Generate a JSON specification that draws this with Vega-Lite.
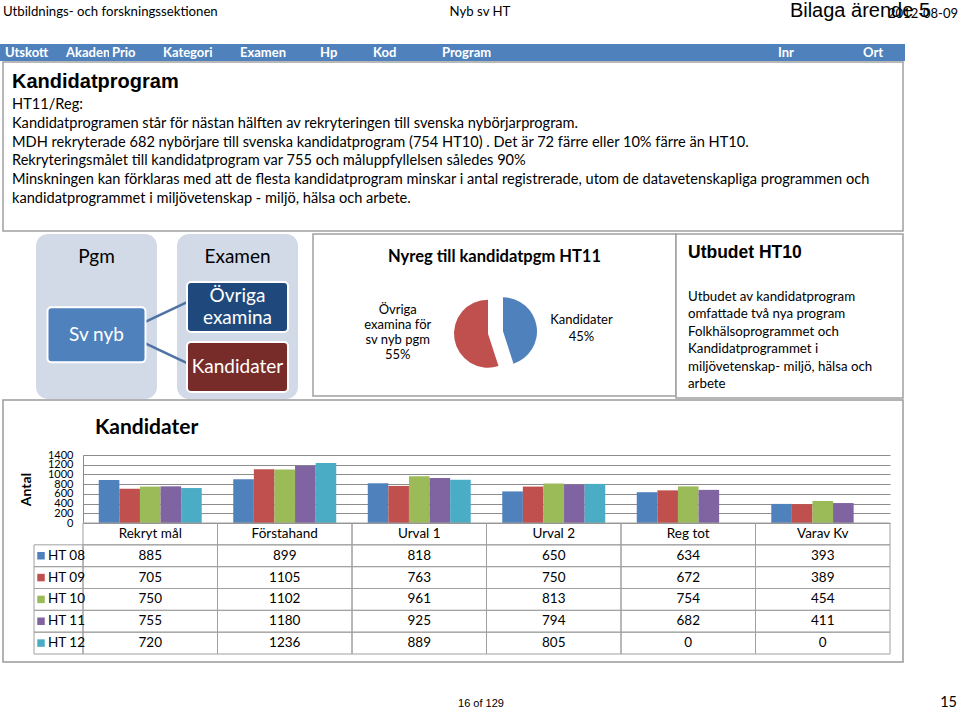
{
  "$schema": "https://vega.github.io/schema/vega-lite/v6.json",
  "padding": 0,
  "background": "white",
  "spacing": 0,
  "bounds": "full",
  "resolve": {"scale": {"color": "independent"}},
  "config": {
    "view": {"stroke": null},
    "concat": {"spacing": 0},
    "text": {"font": "Lato", "fontSize": 14, "color": "black"},
    "axis": {"labelFont": "Lato", "titleFont": "Lato"},
    "title": {"font": "Lato"}
  },
  "vconcat": [
    {
      "width": 960, "height": 44,
      "data": {"values": [{}]},
      "layer": [
        {"mark": {"type": "text", "text": "Utbildnings- och forskningssektionen", "align": "left", "baseline": "middle", "dx": 3, "dy": -10, "fontSize": 13.2},
         "encoding": {"x": {"datum": "a", "type": "nominal", "scale": {"type": "band", "domain": ["a"], "paddingInner": 0, "paddingOuter": 0}, "bandPosition": 0, "axis": null}}},
        {"mark": {"type": "text", "text": "Nyb sv HT", "baseline": "middle", "dy": -10, "fontSize": 13.2}, "encoding": {}},
        {"mark": {"type": "text", "text": "Bilaga ärende 5", "align": "right", "baseline": "alphabetic", "dx": -30, "dy": -5, "font": "Liberation Sans", "fontSize": 20},
         "encoding": {"x": {"datum": "a", "type": "nominal", "bandPosition": 1, "axis": null}}},
        {"mark": {"type": "text", "text": "2012-08-09", "align": "right", "baseline": "middle", "dx": -2, "dy": -8, "fontSize": 13},
         "encoding": {"x": {"datum": "a", "type": "nominal", "bandPosition": 1, "axis": null}}}
      ]
    },
    {
      "hconcat": [
        {"width": 63, "height": 17, "view": {"fill": "#4F81BD", "stroke": null}, "data": {"values": [{}]},
         "mark": {"type": "text", "text": "Utskott", "align": "left", "baseline": "middle", "dx": 5, "fontWeight": "bold", "fontSize": 13, "color": "white", "clip": true},
         "encoding": {"x": {"datum": "a", "type": "nominal", "scale": {"type": "band", "domain": ["a"], "paddingInner": 0, "paddingOuter": 0}, "bandPosition": 0, "axis": null}}},
        {"width": 46, "height": 17, "view": {"fill": "#4F81BD", "stroke": null}, "data": {"values": [{}]},
         "mark": {"type": "text", "text": "Akademi", "align": "left", "baseline": "middle", "dx": 3, "fontWeight": "bold", "fontSize": 13, "color": "white", "clip": true},
         "encoding": {"x": {"datum": "a", "type": "nominal", "scale": {"type": "band", "domain": ["a"], "paddingInner": 0, "paddingOuter": 0}, "bandPosition": 0, "axis": null}}},
        {"width": 51, "height": 17, "view": {"fill": "#4F81BD", "stroke": null}, "data": {"values": [{}]},
         "mark": {"type": "text", "text": "Prio", "align": "left", "baseline": "middle", "dx": 3, "fontWeight": "bold", "fontSize": 13, "color": "white", "clip": true},
         "encoding": {"x": {"datum": "a", "type": "nominal", "scale": {"type": "band", "domain": ["a"], "paddingInner": 0, "paddingOuter": 0}, "bandPosition": 0, "axis": null}}},
        {"width": 77, "height": 17, "view": {"fill": "#4F81BD", "stroke": null}, "data": {"values": [{}]},
         "mark": {"type": "text", "text": "Kategori", "align": "left", "baseline": "middle", "dx": 3, "fontWeight": "bold", "fontSize": 13, "color": "white", "clip": true},
         "encoding": {"x": {"datum": "a", "type": "nominal", "scale": {"type": "band", "domain": ["a"], "paddingInner": 0, "paddingOuter": 0}, "bandPosition": 0, "axis": null}}},
        {"width": 80, "height": 17, "view": {"fill": "#4F81BD", "stroke": null}, "data": {"values": [{}]},
         "mark": {"type": "text", "text": "Examen", "align": "left", "baseline": "middle", "dx": 3, "fontWeight": "bold", "fontSize": 13, "color": "white", "clip": true},
         "encoding": {"x": {"datum": "a", "type": "nominal", "scale": {"type": "band", "domain": ["a"], "paddingInner": 0, "paddingOuter": 0}, "bandPosition": 0, "axis": null}}},
        {"width": 53, "height": 17, "view": {"fill": "#4F81BD", "stroke": null}, "data": {"values": [{}]},
         "mark": {"type": "text", "text": "Hp", "align": "left", "baseline": "middle", "dx": 3, "fontWeight": "bold", "fontSize": 13, "color": "white", "clip": true},
         "encoding": {"x": {"datum": "a", "type": "nominal", "scale": {"type": "band", "domain": ["a"], "paddingInner": 0, "paddingOuter": 0}, "bandPosition": 0, "axis": null}}},
        {"width": 69, "height": 17, "view": {"fill": "#4F81BD", "stroke": null}, "data": {"values": [{}]},
         "mark": {"type": "text", "text": "Kod", "align": "left", "baseline": "middle", "dx": 3, "fontWeight": "bold", "fontSize": 13, "color": "white", "clip": true},
         "encoding": {"x": {"datum": "a", "type": "nominal", "scale": {"type": "band", "domain": ["a"], "paddingInner": 0, "paddingOuter": 0}, "bandPosition": 0, "axis": null}}},
        {"width": 336, "height": 17, "view": {"fill": "#4F81BD", "stroke": null}, "data": {"values": [{}]},
         "mark": {"type": "text", "text": "Program", "align": "left", "baseline": "middle", "dx": 3, "fontWeight": "bold", "fontSize": 13, "color": "white", "clip": true},
         "encoding": {"x": {"datum": "a", "type": "nominal", "scale": {"type": "band", "domain": ["a"], "paddingInner": 0, "paddingOuter": 0}, "bandPosition": 0, "axis": null}}},
        {"width": 85, "height": 17, "view": {"fill": "#4F81BD", "stroke": null}, "data": {"values": [{}]},
         "mark": {"type": "text", "text": "Inr", "align": "left", "baseline": "middle", "dx": 3, "fontWeight": "bold", "fontSize": 13, "color": "white", "clip": true},
         "encoding": {"x": {"datum": "a", "type": "nominal", "scale": {"type": "band", "domain": ["a"], "paddingInner": 0, "paddingOuter": 0}, "bandPosition": 0, "axis": null}}},
        {"width": 45, "height": 17, "view": {"fill": "#4F81BD", "stroke": null}, "data": {"values": [{}]},
         "mark": {"type": "text", "text": "Ort", "align": "left", "baseline": "middle", "dx": 3, "fontWeight": "bold", "fontSize": 13, "color": "white", "clip": true},
         "encoding": {"x": {"datum": "a", "type": "nominal", "scale": {"type": "band", "domain": ["a"], "paddingInner": 0, "paddingOuter": 0}, "bandPosition": 0, "axis": null}}}
      ],
      "spacing": 0, "bounds": "flush"
    },
    {
      "hconcat": [
        {"width": 3, "height": 171, "data": {"values": [{}]}, "mark": {"type": "text", "text": ""}, "encoding": {}},
        {
          "width": 900, "height": 169,
          "view": {"stroke": "#A0A0A0", "strokeWidth": 1.5, "fill": "white"},
          "data": {"values": [{}]},
          "layer": [
            {"mark": {"type": "text", "text": "Kandidatprogram", "align": "left", "baseline": "middle", "dx": 9, "dy": -65, "font": "Liberation Sans Narrow, Liberation Sans", "fontSize": 20, "fontWeight": "bold"},
             "encoding": {"x": {"datum": "a", "type": "nominal", "scale": {"type": "band", "domain": ["a"], "paddingInner": 0, "paddingOuter": 0}, "bandPosition": 0, "axis": null}}},
            {"mark": {"type": "text", "align": "left", "baseline": "middle", "dx": 9, "dy": -41.5, "lineHeight": 18.8, "fontSize": 14.6,
               "text": ["HT11/Reg:",
                        "Kandidatprogramen står för nästan hälften av rekryteringen till svenska nybörjarprogram.",
                        "MDH rekryterade 682 nybörjare till svenska kandidatprogram (754  HT10) . Det är 72 färre eller 10% färre än HT10.",
                        "Rekryteringsmålet till kandidatprogram var 755 och måluppfyllelsen således 90%",
                        "Minskningen kan förklaras med att de flesta kandidatprogram minskar i antal registrerade, utom de datavetenskapliga programmen och",
                        "kandidatprogrammet i miljövetenskap - miljö, hälsa och arbete."]},
             "encoding": {"x": {"datum": "a", "type": "nominal", "bandPosition": 0, "axis": null}}}
          ]
        }
      ],
      "spacing": 0, "bounds": "flush"
    },
    {
      "hconcat": [
        {"width": 36, "height": 165, "data": {"values": [{}]}, "mark": {"type": "text", "text": ""}, "encoding": {}},
        {
          "width": 262, "height": 165,
          "layer": [
            {"data": {"values": [{"Kolumn": "Pgm"}, {"Kolumn": "Examen"}]},
             "layer": [
               {"mark": {"type": "rect", "cornerRadius": 12, "color": "#D2D9E7"},
                "encoding": {"x": {"field": "Kolumn", "type": "nominal", "scale": {"type": "band", "domain": ["Pgm", "Examen"], "paddingInner": 0.142, "paddingOuter": 0}, "axis": null}}},
               {"mark": {"type": "text", "fontSize": 19, "color": "#000000", "baseline": "middle", "dy": -59.5},
                "encoding": {"x": {"field": "Kolumn", "type": "nominal", "scale": {"type": "band", "domain": ["Pgm", "Examen"], "paddingInner": 0.142, "paddingOuter": 0}, "axis": null}, "text": {"field": "Kolumn", "type": "nominal"}}}
             ]},
            {"data": {"values": [
                {"Länk": "övre", "Nod": "Pgm", "Nivå": "mitten"},
                {"Länk": "övre", "Nod": "Examen", "Nivå": "övre"},
                {"Länk": "nedre", "Nod": "Pgm", "Nivå": "mitten"},
                {"Länk": "nedre", "Nod": "Examen", "Nivå": "nedre"}]},
             "mark": {"type": "line", "color": "#4D72A3", "strokeWidth": 2.5},
             "encoding": {
               "x": {"field": "Nod", "type": "nominal", "scale": {"type": "point", "domain": ["Pgm", "Examen"], "padding": 2.619, "align": 0.4955}, "axis": null},
               "y": {"field": "Nivå", "type": "nominal", "scale": {"type": "point", "domain": ["övre", "mitten", "nedre"], "padding": 1.75, "align": 0.695}, "axis": null},
               "detail": {"field": "Länk", "type": "nominal"}
             }},
            {"data": {"values": [{"Kolumn": "Examen", "Nivå": "övre", "Etikett": "Övriga\nexamina"}, {"Kolumn": "Examen", "Nivå": "nedre", "Etikett": "Kandidater"}]},
             "layer": [
               {"mark": {"type": "rect", "width": {"band": 0.835}, "cornerRadius": 4, "stroke": "white", "strokeWidth": 2},
                "encoding": {
                  "x": {"field": "Kolumn", "type": "nominal", "scale": {"type": "band", "domain": ["Pgm", "Examen"], "paddingInner": 0.142, "paddingOuter": 0}, "axis": null},
                  "y": {"field": "Nivå", "type": "nominal", "scale": {"type": "band", "domain": ["övre", "nedre"], "paddingInner": 0.1667, "paddingOuter": 0.4583, "align": 0.873}, "axis": null},
                  "color": {"field": "Etikett", "type": "nominal", "scale": {"domain": ["Övriga\nexamina", "Kandidater"], "range": ["#1F497D", "#772C2A"]}, "legend": null}
                }},
               {"transform": [{"filter": "datum.Nivå === 'övre'"}],
                "mark": {"type": "text", "color": "white", "fontSize": 19, "lineBreak": "\n", "lineHeight": 22, "baseline": "middle", "dy": -11},
                "encoding": {
                  "x": {"field": "Kolumn", "type": "nominal", "scale": {"type": "band", "domain": ["Pgm", "Examen"], "paddingInner": 0.142, "paddingOuter": 0}, "axis": null},
                  "y": {"field": "Nivå", "type": "nominal", "scale": {"type": "band", "domain": ["övre", "nedre"], "paddingInner": 0.1667, "paddingOuter": 0.4583, "align": 0.873}, "axis": null},
                  "text": {"field": "Etikett", "type": "nominal"}
                }},
               {"transform": [{"filter": "datum.Nivå === 'nedre'"}],
                "mark": {"type": "text", "color": "white", "fontSize": 19, "baseline": "middle"},
                "encoding": {
                  "x": {"field": "Kolumn", "type": "nominal", "scale": {"type": "band", "domain": ["Pgm", "Examen"], "paddingInner": 0.142, "paddingOuter": 0}, "axis": null},
                  "y": {"field": "Nivå", "type": "nominal", "scale": {"type": "band", "domain": ["övre", "nedre"], "paddingInner": 0.1667, "paddingOuter": 0.4583, "align": 0.873}, "axis": null},
                  "text": {"field": "Etikett", "type": "nominal"}
                }}
             ]},
            {"data": {"values": [{"Kolumn": "Pgm", "Nivå": "mitten", "Etikett": "Sv nyb"}]},
             "layer": [
               {"mark": {"type": "rect", "width": {"band": 0.81}, "cornerRadius": 4, "stroke": "white", "strokeWidth": 2, "color": "#4F81BD"},
                "encoding": {
                  "x": {"field": "Kolumn", "type": "nominal", "scale": {"type": "band", "domain": ["Pgm", "Examen"], "paddingInner": 0.142, "paddingOuter": 0}, "axis": null},
                  "y": {"field": "Nivå", "type": "nominal", "scale": {"type": "band", "domain": ["mitten"], "paddingInner": 0, "paddingOuter": 1.21875, "align": 0.667}, "axis": null}
                }},
               {"mark": {"type": "text", "color": "white", "fontSize": 19, "baseline": "middle"},
                "encoding": {
                  "x": {"field": "Kolumn", "type": "nominal", "scale": {"type": "band", "domain": ["Pgm", "Examen"], "paddingInner": 0.142, "paddingOuter": 0}, "axis": null},
                  "y": {"field": "Nivå", "type": "nominal", "scale": {"type": "band", "domain": ["mitten"], "paddingInner": 0, "paddingOuter": 1.21875, "align": 0.667}, "axis": null},
                  "text": {"field": "Etikett", "type": "nominal"}
                }}
             ]}
          ],
          "resolve": {"scale": {"x": "independent", "y": "independent"}}
        },
        {"width": 15, "height": 165, "data": {"values": [{}]}, "mark": {"type": "text", "text": ""}, "encoding": {}},
        {
          "width": 363, "height": 162,
          "view": {"stroke": "#A0A0A0", "strokeWidth": 1.5, "fill": "white"},
          "data": {"values": [
            {"Del": "Kandidater", "Andel": 45, "Etikett": "Kandidater\n45%"},
            {"Del": "Övriga examina för sv nyb pgm", "Andel": 55, "Etikett": "Övriga\nexamina för\nsv nyb pgm\n55%"}
          ]},
          "layer": [
            {"data": {"values": [{}]}, "mark": {"type": "text", "text": "Nyreg till kandidatpgm HT11", "fontSize": 16.5, "fontWeight": "bold", "baseline": "middle", "dy": -58}, "encoding": {}},
            {"mark": {"type": "arc", "radius": 34, "xOffset": 8.5, "yOffset": 16.3},
             "encoding": {
               "theta": {"field": "Andel", "type": "quantitative", "stack": true},
               "order": {"field": "Andel", "type": "quantitative", "sort": "ascending"},
               "color": {"field": "Del", "type": "nominal", "scale": {"domain": ["Kandidater", "Övriga examina för sv nyb pgm"], "range": ["#4F81BD", "#C0504D"]}, "legend": null},
               "opacity": {"condition": {"test": "datum.Del === 'Kandidater'", "value": 1}, "value": 0}
             }},
            {"mark": {"type": "arc", "radius": 34, "xOffset": -6.5, "yOffset": 18.7},
             "encoding": {
               "theta": {"field": "Andel", "type": "quantitative", "stack": true},
               "order": {"field": "Andel", "type": "quantitative", "sort": "ascending"},
               "color": {"field": "Del", "type": "nominal", "scale": {"domain": ["Kandidater", "Övriga examina för sv nyb pgm"], "range": ["#4F81BD", "#C0504D"]}, "legend": null},
               "opacity": {"condition": {"test": "datum.Del !== 'Kandidater'", "value": 1}, "value": 0}
             }},
            {"mark": {"type": "text", "radius": 87, "xOffset": 1, "yOffset": 18.5, "lineBreak": "\n", "lineHeight": 17, "fontSize": 13, "baseline": "middle"},
             "encoding": {
               "theta": {"field": "Andel", "type": "quantitative", "stack": true},
               "order": {"field": "Andel", "type": "quantitative", "sort": "ascending"},
               "detail": {"field": "Del", "type": "nominal"},
               "text": {"condition": {"test": "datum.Del === 'Kandidater'", "field": "Etikett", "type": "nominal"}, "value": ""}
             }},
            {"mark": {"type": "text", "radius": 100, "xOffset": 2, "yOffset": -21, "lineBreak": "\n", "lineHeight": 15, "fontSize": 13, "baseline": "middle"},
             "encoding": {
               "theta": {"field": "Andel", "type": "quantitative", "stack": true},
               "order": {"field": "Andel", "type": "quantitative", "sort": "ascending"},
               "detail": {"field": "Del", "type": "nominal"},
               "text": {"condition": {"test": "datum.Del !== 'Kandidater'", "field": "Etikett", "type": "nominal"}, "value": ""}
             }}
          ]
        },
        {
          "width": 227, "height": 164,
          "view": {"stroke": "#A0A0A0", "strokeWidth": 1.5, "fill": "white"},
          "data": {"values": [{}]},
          "layer": [
            {"mark": {"type": "text", "text": "Utbudet HT10", "align": "left", "baseline": "middle", "dx": 12, "dy": -63, "font": "Liberation Sans Narrow, Liberation Sans", "fontSize": 17.5, "fontWeight": "bold"},
             "encoding": {"x": {"datum": "a", "type": "nominal", "scale": {"type": "band", "domain": ["a"], "paddingInner": 0, "paddingOuter": 0}, "bandPosition": 0, "axis": null}}},
            {"mark": {"type": "text", "align": "left", "baseline": "middle", "dx": 12, "dy": -19, "lineHeight": 17.4, "fontSize": 13.3,
               "text": ["Utbudet av kandidatprogram", "omfattade två nya program", "Folkhälsoprogrammet och", "Kandidatprogrammet i", "miljövetenskap- miljö, hälsa och", "arbete"]},
             "encoding": {"x": {"datum": "a", "type": "nominal", "bandPosition": 0, "axis": null}}}
          ]
        }
      ],
      "spacing": 0, "bounds": "flush",
      "resolve": {"scale": {"color": "independent"}}
    },
    {
      "hconcat": [
        {"width": 3, "height": 262, "data": {"values": [{}]}, "mark": {"type": "text", "text": ""}, "encoding": {}},
        {
          "width": 900, "height": 262,
          "view": {"stroke": "#9A9A9A", "strokeWidth": 1.5, "fill": "white"},
          "title": {"text": "Kandidater", "anchor": "start", "frame": "group", "dx": 92, "offset": -59, "baseline": "bottom", "fontSize": 21, "fontWeight": "bold", "color": "black"},
          "data": {"values": [
            {"Kategori": "Rekryt mål", "Serie": "HT 08", "Antal": 885},
            {"Kategori": "Rekryt mål", "Serie": "HT 09", "Antal": 705},
            {"Kategori": "Rekryt mål", "Serie": "HT 10", "Antal": 750},
            {"Kategori": "Rekryt mål", "Serie": "HT 11", "Antal": 755},
            {"Kategori": "Rekryt mål", "Serie": "HT 12", "Antal": 720},
            {"Kategori": "Förstahand", "Serie": "HT 08", "Antal": 899},
            {"Kategori": "Förstahand", "Serie": "HT 09", "Antal": 1105},
            {"Kategori": "Förstahand", "Serie": "HT 10", "Antal": 1102},
            {"Kategori": "Förstahand", "Serie": "HT 11", "Antal": 1180},
            {"Kategori": "Förstahand", "Serie": "HT 12", "Antal": 1236},
            {"Kategori": "Urval 1", "Serie": "HT 08", "Antal": 818},
            {"Kategori": "Urval 1", "Serie": "HT 09", "Antal": 763},
            {"Kategori": "Urval 1", "Serie": "HT 10", "Antal": 961},
            {"Kategori": "Urval 1", "Serie": "HT 11", "Antal": 925},
            {"Kategori": "Urval 1", "Serie": "HT 12", "Antal": 889},
            {"Kategori": "Urval 2", "Serie": "HT 08", "Antal": 650},
            {"Kategori": "Urval 2", "Serie": "HT 09", "Antal": 750},
            {"Kategori": "Urval 2", "Serie": "HT 10", "Antal": 813},
            {"Kategori": "Urval 2", "Serie": "HT 11", "Antal": 794},
            {"Kategori": "Urval 2", "Serie": "HT 12", "Antal": 805},
            {"Kategori": "Reg tot", "Serie": "HT 08", "Antal": 634},
            {"Kategori": "Reg tot", "Serie": "HT 09", "Antal": 672},
            {"Kategori": "Reg tot", "Serie": "HT 10", "Antal": 754},
            {"Kategori": "Reg tot", "Serie": "HT 11", "Antal": 682},
            {"Kategori": "Reg tot", "Serie": "HT 12", "Antal": 0},
            {"Kategori": "Varav Kv", "Serie": "HT 08", "Antal": 393},
            {"Kategori": "Varav Kv", "Serie": "HT 09", "Antal": 389},
            {"Kategori": "Varav Kv", "Serie": "HT 10", "Antal": 454},
            {"Kategori": "Varav Kv", "Serie": "HT 11", "Antal": 411},
            {"Kategori": "Varav Kv", "Serie": "HT 12", "Antal": 0}
          ]},
          "layer": [
            {
              "mark": {"type": "bar"},
              "encoding": {
                "x": {"field": "Kategori", "type": "nominal", "scale": {"type": "band", "domain": ["Rekryt mål", "Förstahand", "Urval 1", "Urval 2", "Reg tot", "Varav Kv"], "range": [80, 887], "paddingInner": 0, "paddingOuter": 0}, "axis": null},
                "xOffset": {"field": "Serie", "type": "nominal", "scale": {"domain": ["HT 08", "HT 09", "HT 10", "HT 11", "HT 12"], "paddingInner": 0, "paddingOuter": 0.765}},
                "y": {"field": "Antal", "type": "quantitative", "scale": {"domain": [0, 1400], "range": [123, 55], "nice": false, "zero": true},
                      "axis": {"orient": "left", "offset": -80, "values": [0, 200, 400, 600, 800, 1000, 1200, 1400], "format": "d", "grid": true, "gridColor": "#8C8C8C", "gridWidth": 1, "ticks": false, "domain": true, "domainColor": "#8C8C8C", "labelPadding": 10, "labelFontSize": 11, "labelColor": "black", "labelOverlap": false, "title": "Antal", "titleFontSize": 14, "titleFontWeight": "bold", "titleColor": "black", "titlePadding": 14}},
                "color": {"field": "Serie", "type": "nominal", "scale": {"domain": ["HT 08", "HT 09", "HT 10", "HT 11", "HT 12"], "range": ["#4F81BD", "#C0504D", "#9BBB59", "#8064A2", "#4BACC6"]}, "legend": null}
              }
            },
            {
              "layer": [
                {
                  "layer": [
                    {"mark": {"type": "rect", "fillOpacity": 0, "stroke": "#A0A0A0", "strokeWidth": 1},
                     "encoding": {
                       "x": {"field": "Kategori", "type": "nominal", "scale": {"type": "band", "domain": ["Rekryt mål", "Förstahand", "Urval 1", "Urval 2", "Reg tot", "Varav Kv"], "range": [80, 887], "paddingInner": 0, "paddingOuter": 0}, "axis": null},
                       "y": {"field": "Serie", "type": "nominal", "scale": {"type": "band", "domain": ["Kategori", "HT 08", "HT 09", "HT 10", "HT 11", "HT 12"], "range": [123, 254], "paddingInner": 0, "paddingOuter": 0}, "axis": null}
                     }},
                    {"transform": [{"aggregate": [{"op": "count", "as": "n"}], "groupby": ["Kategori"]}],
                     "mark": {"type": "rect", "fillOpacity": 0, "stroke": "#A0A0A0", "strokeWidth": 1},
                     "encoding": {
                       "x": {"field": "Kategori", "type": "nominal", "axis": null},
                       "y": {"datum": "Kategori", "type": "nominal", "axis": null}
                     }},
                    {"transform": [{"aggregate": [{"op": "count", "as": "n"}], "groupby": ["Kategori"]}],
                     "mark": {"type": "text", "fontSize": 13.5, "baseline": "middle"},
                     "encoding": {
                       "x": {"field": "Kategori", "type": "nominal", "axis": null},
                       "y": {"datum": "Kategori", "type": "nominal", "axis": null},
                       "text": {"field": "Kategori", "type": "nominal"}
                     }},
                    {"mark": {"type": "text", "fontSize": 13.5, "baseline": "middle"},
                     "encoding": {
                       "x": {"field": "Kategori", "type": "nominal", "axis": null},
                       "y": {"field": "Serie", "type": "nominal", "axis": null},
                       "text": {"field": "Antal", "type": "quantitative"}
                     }}
                  ]
                },
                {
                  "transform": [{"aggregate": [{"op": "count", "as": "n"}], "groupby": ["Serie"]}],
                  "layer": [
                    {"mark": {"type": "rect", "fillOpacity": 0, "stroke": "#A0A0A0", "strokeWidth": 1},
                     "encoding": {
                       "x": {"datum": "Serie", "type": "nominal", "scale": {"type": "band", "domain": ["Serie"], "range": [31, 80], "paddingInner": 0, "paddingOuter": 0}, "axis": null},
                       "y": {"field": "Serie", "type": "nominal", "axis": null}
                     }},
                    {"mark": {"type": "square", "size": 56, "filled": true, "opacity": 1},
                     "encoding": {
                       "x": {"datum": "Serie", "type": "nominal", "bandPosition": 0.143, "axis": null},
                       "y": {"field": "Serie", "type": "nominal", "axis": null},
                       "color": {"field": "Serie", "type": "nominal", "legend": null}
                     }},
                    {"mark": {"type": "text", "fontSize": 13.5, "align": "left", "baseline": "middle"},
                     "encoding": {
                       "x": {"datum": "Serie", "type": "nominal", "bandPosition": 0.286, "axis": null},
                       "y": {"field": "Serie", "type": "nominal", "axis": null},
                       "text": {"field": "Serie", "type": "nominal"}
                     }}
                  ]
                }
              ],
              "resolve": {"scale": {"x": "independent"}}
            }
          ],
          "resolve": {"scale": {"x": "independent", "y": "independent", "xOffset": "independent"}}
        }
      ],
      "spacing": 0, "bounds": "flush"
    },
    {
      "width": 960, "height": 48,
      "data": {"values": [{}]},
      "layer": [
        {"mark": {"type": "text", "text": "16 of 129", "font": "Liberation Sans", "fontSize": 11, "baseline": "middle", "dx": 1, "dy": 17}, "encoding": {}},
        {"mark": {"type": "text", "text": "15", "align": "right", "baseline": "middle", "fontSize": 14.5, "dx": -3, "dy": 16},
         "encoding": {"x": {"datum": "a", "type": "nominal", "scale": {"type": "band", "domain": ["a"], "paddingInner": 0, "paddingOuter": 0}, "bandPosition": 1, "axis": null}}}
      ]
    }
  ]
}
